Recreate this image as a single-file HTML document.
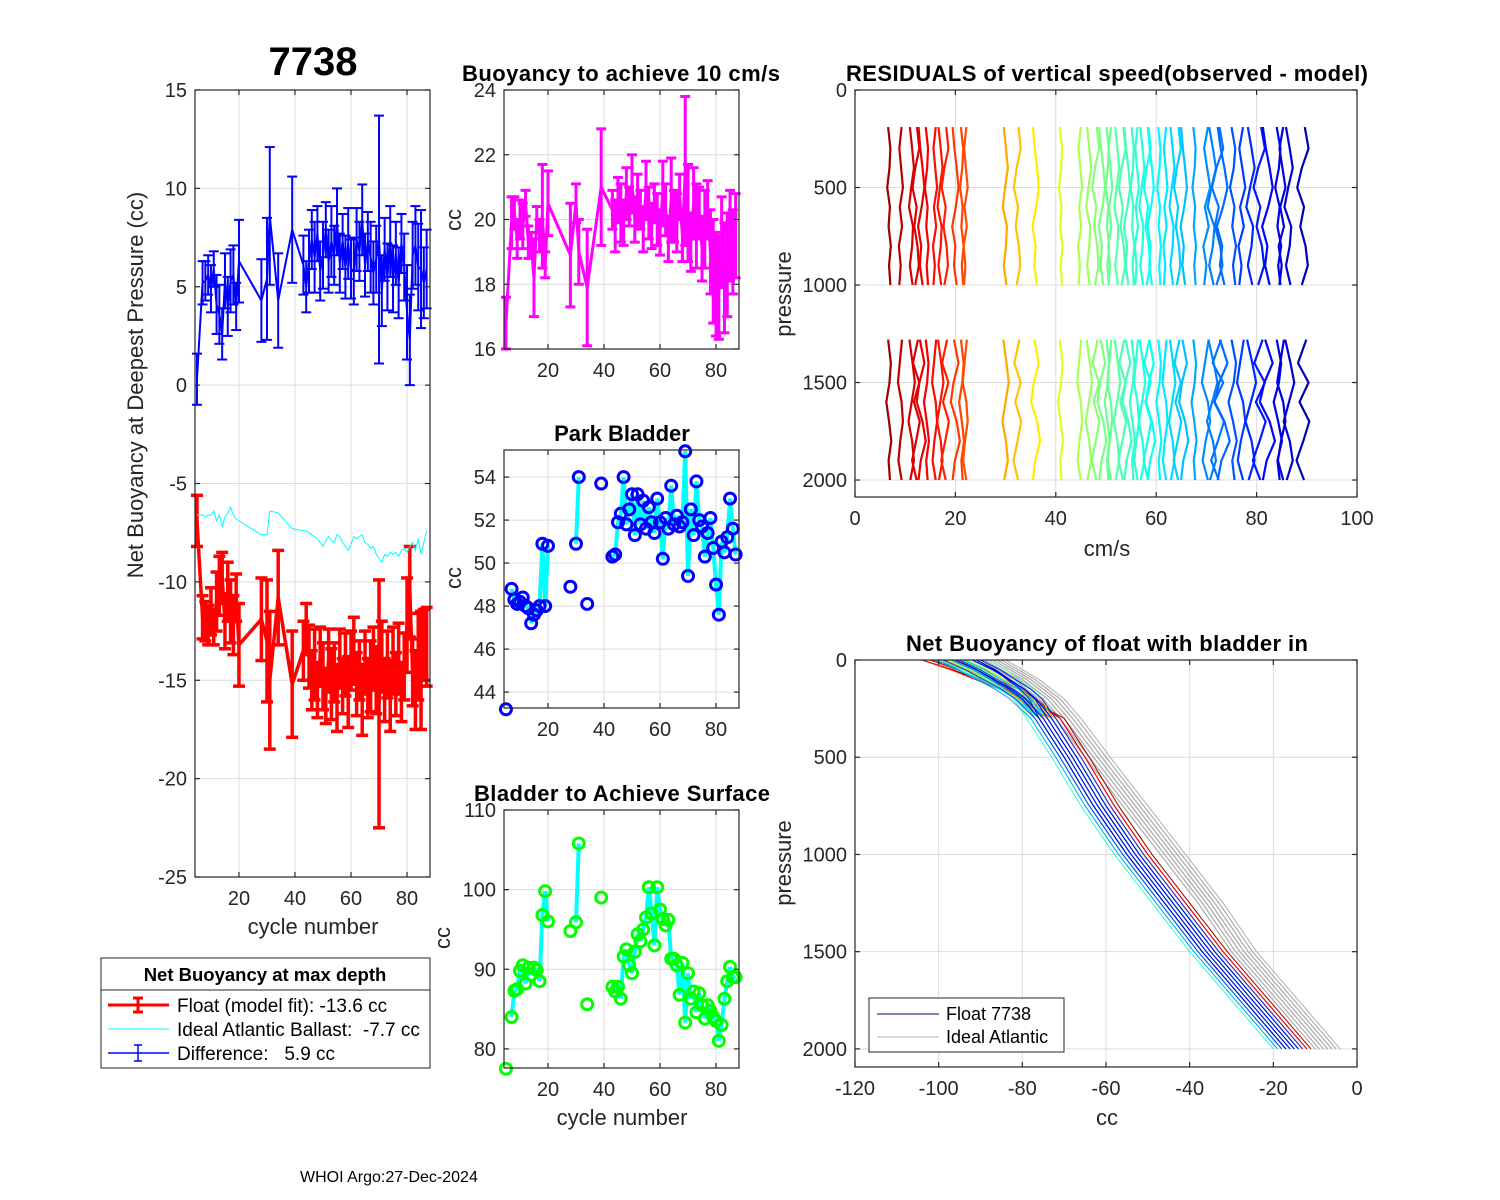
<!DOCTYPE html>
<html><head><meta charset="utf-8"><style>
html,body{margin:0;padding:0;background:#fff;}
svg{display:block;font-family:"Liberation Sans",Arial,sans-serif;}
text{white-space:pre;}
</style></head><body>
<svg id="fig" width="1500" height="1200" viewBox="0 0 1500 1200" xmlns="http://www.w3.org/2000/svg">
<rect x="0" y="0" width="1500" height="1200" fill="#fff"/>
<text x="313" y="75" text-anchor="middle" font-size="40" font-weight="bold">7738</text>
<text x="621" y="81" text-anchor="middle" font-size="22" font-weight="bold" textLength="318">Buoyancy to achieve 10 cm/s</text>
<text x="622" y="441" text-anchor="middle" font-size="22" font-weight="bold">Park Bladder</text>
<text x="622" y="801" text-anchor="middle" font-size="22" font-weight="bold" textLength="296">Bladder to Achieve Surface</text>
<text x="1107" y="81" text-anchor="middle" font-size="22" font-weight="bold" textLength="522">RESIDUALS of vertical speed(observed - model)</text>
<text x="1107" y="651" text-anchor="middle" font-size="22" font-weight="bold" textLength="402">Net Buoyancy of float with bladder in</text>
<text x="313" y="934" text-anchor="middle" font-size="22" fill="#262626">cycle number</text>
<text transform="translate(143,385) rotate(-90)" text-anchor="middle" font-size="22" fill="#262626">Net Buoyancy at Deepest Pressure (cc)</text>
<text transform="translate(461,220) rotate(-90)" text-anchor="middle" font-size="22" fill="#262626">cc</text>
<text transform="translate(461,578) rotate(-90)" text-anchor="middle" font-size="22" fill="#262626">cc</text>
<text transform="translate(450,938) rotate(-90)" text-anchor="middle" font-size="22" fill="#262626">cc</text>
<text x="622" y="1125" text-anchor="middle" font-size="22" fill="#262626">cycle number</text>
<text x="1107" y="556" text-anchor="middle" font-size="22" fill="#262626">cm/s</text>
<text transform="translate(791,294) rotate(-90)" text-anchor="middle" font-size="22" fill="#262626">pressure</text>
<text x="1107" y="1125" text-anchor="middle" font-size="22" fill="#262626">cc</text>
<text transform="translate(791,863) rotate(-90)" text-anchor="middle" font-size="22" fill="#262626">pressure</text>
<text x="300" y="1182" font-size="16">WHOI Argo:27-Dec-2024</text>
<g id="legend1">
<rect x="101" y="958" width="329" height="110" fill="#fff" stroke="#262626" stroke-width="1"/>
<line x1="101" y1="990" x2="430" y2="990" stroke="#262626" stroke-width="1"/>
<text x="265" y="981" text-anchor="middle" font-size="18.5" font-weight="bold">Net Buoyancy at max depth</text>
<line x1="108" y1="1005" x2="169" y2="1005" stroke="#f00" stroke-width="3"/>
<line x1="138" y1="998" x2="138" y2="1012" stroke="#f00" stroke-width="3"/><line x1="133" y1="998" x2="143" y2="998" stroke="#f00" stroke-width="3"/><line x1="133" y1="1012" x2="143" y2="1012" stroke="#f00" stroke-width="3"/>
<text x="177" y="1012" font-size="19">Float (model fit): -13.6 cc</text>
<line x1="108" y1="1029" x2="169" y2="1029" stroke="#0ff" stroke-width="1"/>
<text x="177" y="1036" font-size="19">Ideal Atlantic Ballast:  -7.7 cc</text>
<line x1="108" y1="1053" x2="169" y2="1053" stroke="#00f" stroke-width="1.5"/>
<line x1="138" y1="1045" x2="138" y2="1061" stroke="#00f" stroke-width="1.5"/><line x1="134" y1="1045" x2="142" y2="1045" stroke="#00f" stroke-width="1.5"/><line x1="134" y1="1061" x2="142" y2="1061" stroke="#00f" stroke-width="1.5"/>
<text x="177" y="1060" font-size="19">Difference:   5.9 cc</text>
</g>
</svg>
<script>
// ---------- data ----------
const cycles=[5,7,8,9,10,11,12,13,14,15,16,17,18,19,20,28,30,31,34,39,43,44,45,46,47,48,49,50,51,52,53,54,55,56,57,58,59,60,61,62,63,64,65,66,67,68,69,70,71,72,73,74,75,76,77,78,79,80,81,82,83,84,85,86,87];
const floatFit=[-6.9,-11.8,-12.0,-12.2,-11.5,-12.3,-11.0,-10.2,-9.8,-12.0,-10.5,-11.5,-12.2,-10.8,-13.2,-11.9,-13.0,-15.0,-10.8,-15.2,-13.5,-12.4,-13.8,-15.0,-14.2,-15.5,-13.8,-14.8,-15.8,-14.0,-15.2,-14.6,-15.9,-13.9,-15.3,-14.2,-15.6,-14.0,-13.5,-15.2,-14.5,-16.0,-14.1,-15.4,-14.8,-13.9,-15.0,-16.2,-13.8,-15.5,-14.2,-15.8,-14.0,-15.2,-13.9,-15.6,-14.3,-12.2,-10.5,-14.6,-15.5,-13.8,-14.5,-13.2,-13.3];
const fitErr=[1.3,1.1,1.0,1.0,1.2,0.9,1.5,1.5,1.3,1.4,1.5,1.6,1.5,1.2,2.1,2.1,3.1,3.5,2.4,2.7,1.5,1.3,1.6,1.5,1.8,1.4,1.5,1.7,1.4,1.6,1.8,1.5,1.7,1.5,1.4,1.6,1.8,1.5,1.7,1.6,1.5,1.8,1.6,1.5,1.8,1.6,1.7,6.3,1.8,1.6,1.7,1.8,1.7,1.6,1.8,1.5,1.7,2.4,2.3,1.7,2.0,2.2,3.0,1.8,2.0];
const idealBallast=[-6.6,-6.6,-6.7,-6.6,-6.6,-6.4,-6.9,-6.6,-7.2,-6.7,-6.5,-6.2,-6.6,-6.8,-6.9,-7.6,-7.6,-6.4,-6.5,-7.3,-7.4,-7.4,-7.5,-7.6,-7.7,-7.8,-8.0,-8.2,-7.9,-7.7,-7.9,-8.0,-7.6,-7.7,-8.0,-8.2,-8.4,-8.1,-7.7,-7.8,-7.7,-7.6,-8.0,-8.1,-8.3,-8.2,-8.6,-8.8,-9.0,-8.6,-8.7,-8.5,-8.6,-8.5,-8.7,-8.4,-8.3,-8.5,-8.2,-8.0,-8.4,-7.8,-8.6,-8.0,-7.4];
const buoy10=[16.8,19.9,20.2,19.4,20.0,19.8,20.5,19.3,19.2,18.2,20.0,19.5,20.1,18.6,20.5,18.9,20.5,19.0,17.9,21.0,20.3,19.8,20.6,20.2,19.9,20.8,20.4,21.1,20.0,20.6,20.3,19.7,20.9,20.2,19.8,20.5,20.0,19.6,20.8,20.3,19.4,20.6,20.1,19.9,20.7,19.5,21.5,20.2,19.3,20.5,19.8,20.2,19.1,19.7,20.3,19.0,18.4,18.0,17.9,19.3,18.2,18.6,19.5,19.0,19.5];
const buoy10Err=[0.8,0.8,0.5,0.6,0.6,0.7,0.4,0.5,0.4,1.2,0.4,0.5,1.6,0.4,1.0,1.6,0.6,1.0,1.8,1.8,0.6,0.8,0.7,0.9,0.7,0.8,0.6,0.9,0.7,0.8,0.6,0.7,0.9,0.8,0.7,0.6,0.8,0.7,1.0,0.8,0.7,1.3,0.8,0.9,0.7,0.8,2.3,1.5,0.9,1.1,1.3,0.8,1.0,1.2,0.9,1.3,1.6,1.6,1.6,1.4,1.7,1.6,1.4,1.3,1.3];
const parkBladder=[43.2,48.8,48.3,48.1,48.2,48.4,48.0,47.9,47.2,47.6,47.8,48.0,50.9,48.0,50.8,48.9,50.9,54.0,48.1,53.7,50.3,50.4,51.9,52.3,54.0,51.8,52.5,53.2,51.3,53.2,51.8,52.9,51.6,52.6,51.9,51.4,53.0,51.9,50.2,52.1,51.6,53.6,51.8,52.2,51.7,51.9,55.2,49.4,52.5,51.3,53.8,52.0,51.7,50.3,51.4,52.1,50.7,49.0,47.6,51.0,50.5,51.2,53.0,51.6,50.4];
const surfaceBladder=[77.5,84.0,87.3,87.5,89.8,90.5,88.2,90.2,89.3,90.2,89.9,88.5,96.8,99.8,96.0,94.8,95.9,105.8,85.6,99.0,87.8,87.2,87.8,86.3,91.6,92.5,90.5,89.5,92.2,94.4,93.5,95.0,96.5,100.3,97.0,93.0,100.3,97.5,96.3,95.5,96.2,91.3,91.3,90.5,86.8,90.8,83.3,89.5,86.3,87.2,84.6,87.0,85.5,83.8,85.5,84.8,84.0,83.5,81.0,83.0,86.3,88.5,90.3,89.0,89.0];
// residuals panel
const residOffsets=[6.6,9.1,11.2,12.0,13.1,14.1,15.9,16.9,17.8,19.9,21.1,22.0,29.9,32.2,35.9,40.8,44.8,46.5,47.8,49.1,50.1,50.8,52.1,53.1,54.1,55.1,56.1,57.1,58.1,58.8,60.4,61.8,63.1,64.1,65.4,67.4,70.0,71.0,72.0,73.0,75.0,77.0,78.7,80.3,82.0,84.0,85.0,86.3,89.0];
const residUpperP=[190,300,400,500,600,700,800,900,1000];
const residLowerP=[1280,1400,1500,1600,1700,1800,1900,2000];
const residPatA=[0.0,0.5,0.3,-0.2,0.4,0.1,0.6,0.2,0.5, 0.0,0.6,0.3,-0.4,0.2,0.7,0.1,0.4];
const residPatB=[0.2,-0.3,0.1,0.5,-0.2,0.3,-0.4,0.0,-0.3, 0.3,-0.2,-0.6,0.2,0.5,-0.1,-0.5,0.2];
const residPatC=[-0.3,0.2,0.6,0.0,-0.5,0.4,0.2,-0.3,0.3, -0.4,0.3,0.8,0.1,-0.6,0.2,0.6,-0.2];
const residPatD=[0.4,0.9,0.0,-0.6,0.3,-0.2,0.5,0.8,0.0, 0.6,-0.5,0.9,-0.3,1.0,0.2,-0.7,0.3];
const residPatE=[-0.5,-0.1,0.4,0.8,0.2,-0.6,0.1,-0.2,0.4, -0.2,0.8,-0.3,-0.9,0.4,1.1,0.0,-0.5];
// profile panel
const profP=[0,50,100,150,200,300,500,750,1000,1250,1500,1750,2000];
const floatProfBase=[-93,-88,-84,-80,-77,-73,-67,-60,-52,-43,-34,-24,-14];
const idealProfBase=[-88,-84,-80,-77,-74,-70,-63,-54,-45,-36,-28,-18,-8];
const floatDeepOff=[2,3,1,2,0,1,-1,2,0,1,-2,1,-1,0,-3,1,-2,0,-4,-1,-2,0,-3,1,-5,-1,-2,-4,0,-3,-1,-6,-2,0,-3,-4,-1,-2,-5,0,-3,-1,-2,-4,1,-3,-2,0,-1,-3];
const floatTopOff=[-10,-14,-12,-6,-9,-3,-8,-5,-11,-2,-4,-7,0,-6,-3,2,-5,-1,3,-4,0,-2,4,-6,1,-3,2,-1,5,-4,0,3,-2,1,-5,2,0,4,-3,1,-1,3,0,-2,2,5,-1,1,3,0];
const idealOff=[0,2,-1,1,3,-2,0,1,2,-1,3,0,-2,1,2,0,-1,2,1,-2,4,0,1,-1,2,3,0,1];

// ---------- helpers ----------
const NS='http://www.w3.org/2000/svg';
const svg=document.getElementById('fig');
function mk(tag,attrs,parent){const e=document.createElementNS(NS,tag);for(const k in attrs)e.setAttribute(k,attrs[k]);(parent||svg).appendChild(e);return e;}
function jet(t){const r=Math.min(1,Math.max(0,1.5-Math.abs(4*t-3))),g=Math.min(1,Math.max(0,1.5-Math.abs(4*t-2))),b=Math.min(1,Math.max(0,1.5-Math.abs(4*t-1)));return 'rgb('+Math.round(r*255)+','+Math.round(g*255)+','+Math.round(b*255)+')';}
function makeAxes(name,b,xd,yd,xt,yt,yrev){
  const X=v=>b.x+(v-xd[0])/(xd[1]-xd[0])*b.w;
  const Y=yrev?(v=>b.y+(v-yd[0])/(yd[1]-yd[0])*b.h):(v=>b.y+b.h-(v-yd[0])/(yd[1]-yd[0])*b.h);
  const g=mk('g',{});
  
  
  const grid=mk('g',{stroke:'#dcdcdc','stroke-width':1},g);
  
  
  xt.forEach(v=>mk('line',{x1:X(v),x2:X(v),y1:b.y,y2:b.y+b.h},grid));
  yt.forEach(v=>mk('line',{x1:b.x,x2:b.x+b.w,y1:Y(v),y2:Y(v)},grid));
  const plot=mk('g',{},g);
  
  
  const fr=mk('g',{stroke:'#262626','stroke-width':1.2,fill:'none'},g);
  
  
  mk('rect',{x:b.x,y:b.y,width:b.w,height:b.h},fr);
  xt.forEach(v=>{mk('line',{x1:X(v),x2:X(v),y1:b.y+b.h,y2:b.y+b.h-5},fr);mk('line',{x1:X(v),x2:X(v),y1:b.y,y2:b.y+5},fr);});
  yt.forEach(v=>{mk('line',{x1:b.x,x2:b.x+5,y1:Y(v),y2:Y(v)},fr);mk('line',{x1:b.x+b.w,x2:b.x+b.w-5,y1:Y(v),y2:Y(v)},fr);});
  const xl=mk('g',{'font-size':20,fill:'#262626','text-anchor':'middle'},g);
  
  
  xt.forEach(v=>{const t=mk('text',{x:X(v),y:b.y+b.h+28},xl);t.textContent=String(v);});
  const yl=mk('g',{'font-size':20,fill:'#262626','text-anchor':'end'},g);
  
  
  yt.forEach(v=>{const t=mk('text',{x:b.x-8,y:Y(v)+7},yl);t.textContent=String(v);});
  return {X,Y,plot,fr,g};
}
function errbar(p,x,y1,y2,cap,col,w){mk('line',{x1:x,x2:x,y1:y1,y2:y2,stroke:col,'stroke-width':w},p);mk('line',{x1:x-cap,x2:x+cap,y1:y1,y2:y1,stroke:col,'stroke-width':w},p);mk('line',{x1:x-cap,x2:x+cap,y1:y2,y2:y2,stroke:col,'stroke-width':w},p);}
const cycTicks=[20,40,60,80];
const cycDom=[4.3,88.2];

// ---------- panel 1 ----------
(function(){
  const a=makeAxes('p1',{x:195,y:90,w:235,h:787},cycDom,[-25,15],cycTicks,[15,10,5,0,-5,-10,-15,-20,-25],false);
  const diff=cycles.map((c,i)=>idealBallast[i]-floatFit[i]);
  const red=mk('g',{},a.plot);
  
  
  mk('polyline',{points:cycles.map((c,i)=>a.X(c)+','+a.Y(floatFit[i])).join(' '),fill:'none',stroke:'#f00','stroke-width':3.5},red);
  cycles.forEach((c,i)=>errbar(red,a.X(c),a.Y(floatFit[i]+fitErr[i]),a.Y(floatFit[i]-fitErr[i]),6,'#f00',3.5));
  const cy=mk('polyline',{points:cycles.map((c,i)=>a.X(c)+','+a.Y(idealBallast[i])).join(' '),fill:'none',stroke:'#0ff','stroke-width':1},a.plot);
  
  
  const blue=mk('g',{},a.plot);
  
  
  mk('polyline',{points:cycles.map((c,i)=>a.X(c)+','+a.Y(diff[i])).join(' '),fill:'none',stroke:'#00f','stroke-width':2},blue);
  cycles.forEach((c,i)=>errbar(blue,a.X(c),a.Y(diff[i]+fitErr[i]),a.Y(diff[i]-fitErr[i]),5,'#00f',2));
})();

// ---------- panel 2 ----------
(function(){
  const a=makeAxes('p2',{x:504,y:90,w:235,h:259},cycDom,[16,24],cycTicks,[16,18,20,22,24],false);
  const s=mk('g',{},a.plot);
  
  
  mk('polyline',{points:cycles.map((c,i)=>a.X(c)+','+a.Y(buoy10[i])).join(' '),fill:'none',stroke:'#f0f','stroke-width':3},s);
  cycles.forEach((c,i)=>errbar(s,a.X(c),a.Y(buoy10[i]+buoy10Err[i]),a.Y(buoy10[i]-buoy10Err[i]),5,'#f0f',3));
})();

// ---------- panels 3 & 4 ----------
function circlePanel(name,b,yd,yt,vals,col){
  const a=makeAxes(name,b,cycDom,yd,cycTicks,yt,false);
  const ln=mk('g',{stroke:'#0ff','stroke-width':4,fill:'none'},a.plot);
  
  
  for(let i=1;i<cycles.length;i++){if(cycles[i]-cycles[i-1]===1)mk('line',{x1:a.X(cycles[i-1]),y1:a.Y(vals[i-1]),x2:a.X(cycles[i]),y2:a.Y(vals[i])},ln);}
  const mg=mk('g',{stroke:col,'stroke-width':3,fill:'none'},a.plot);
  
  
  cycles.forEach((c,i)=>mk('circle',{cx:a.X(c),cy:a.Y(vals[i]),r:5.5},mg));
}
circlePanel('p3',{x:504,y:450,w:235,h:258},[43.26,55.26],[44,46,48,50,52,54],parkBladder,'#00f');
circlePanel('p4',{x:504,y:810,w:235,h:258},[77.6,110],[80,90,100,110],surfaceBladder,'#0f0');

// ---------- panel 5 residuals ----------
(function(){
  const a=makeAxes('p5',{x:855,y:90,w:502,h:407},[0,100],[0,2087],[0,20,40,60,80,100],[0,500,1000,1500,2000],true);
  const pats=[residPatA,residPatB,residPatC,residPatD,residPatE];
  const s=mk('g',{fill:'none','stroke-width':2.2},a.plot);
  
  
  const lo=residOffsets[0],hi=residOffsets[residOffsets.length-1];
  residOffsets.forEach((o,i)=>{
    const pat=pats[i%5],col=jet(0.97-0.92*(o-lo)/(hi-lo)),amp=i>35?1.5:0.9;
    mk('polyline',{points:residUpperP.map((p,j)=>a.X(o+pat[j]*amp)+','+a.Y(p)).join(' '),stroke:col},s);
    mk('polyline',{points:residLowerP.map((p,j)=>a.X(o+pat[9+j]*amp)+','+a.Y(p)).join(' '),stroke:col},s);
  });
})();

// ---------- panel 6 profiles ----------
(function(){
  const a=makeAxes('p6',{x:855,y:660,w:502,h:407},[-120,0],[0,2093],[-120,-100,-80,-60,-40,-20,0],[0,500,1000,1500,2000],true);
  const gi=mk('g',{fill:'none',stroke:'#b0b0b0','stroke-width':1},a.plot);
  
  
  idealOff.forEach(o=>mk('polyline',{points:profP.map((p,j)=>a.X(idealProfBase[j]+o)+','+a.Y(p)).join(' ')},gi));
  const gf=mk('g',{fill:'none','stroke-width':1},a.plot);
  
  
  const n=floatDeepOff.length;
  floatDeepOff.forEach((o,i)=>{
    const t=1-0.92*i/(n-1);
    mk('polyline',{points:profP.map((p,j)=>a.X(floatProfBase[j]+o+floatTopOff[i]*Math.max(0,1-p/300))+','+a.Y(p)).join(' '),stroke:jet(t)},gf);
  });
  const lg=mk('g',{},a.g);
  
  
  mk('rect',{x:869,y:998,width:195,height:54,fill:'#fff',stroke:'#262626','stroke-width':1},lg);
  mk('line',{x1:877,x2:939,y1:1014,y2:1014,stroke:'#00008f','stroke-width':1},lg);
  mk('line',{x1:877,x2:939,y1:1037,y2:1037,stroke:'#b4b4b4','stroke-width':1},lg);
  const t1=mk('text',{x:946,y:1020,'font-size':18},lg);t1.textContent='Float 7738';
  const t2=mk('text',{x:946,y:1043,'font-size':18},lg);t2.textContent='Ideal Atlantic';
})();
</script>
</body></html>
